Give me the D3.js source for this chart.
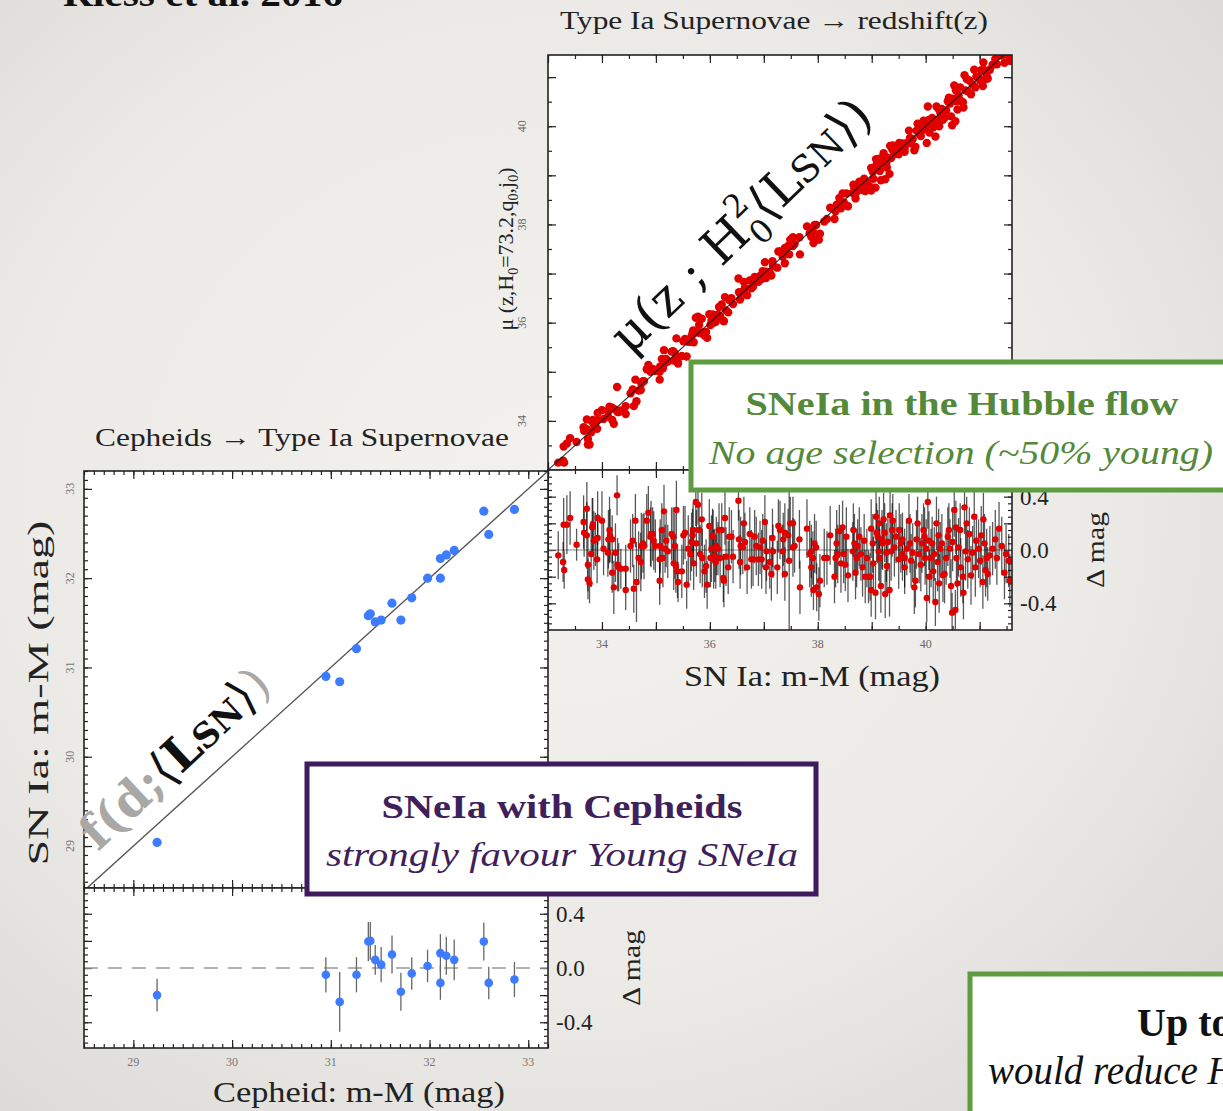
<!DOCTYPE html>
<html>
<head>
<meta charset="utf-8">
<script src="https://cdn.jsdelivr.net/npm/d3@7"></script>
<style>
body { margin: 0; }
svg { display: block; }
</style>
</head>
<body>
<svg id="chart" width="1223" height="1111"></svg>
<script>

// Cepheid-host SNe Ia (lower left panel)
var cephDist = [29.24, 30.95, 31.09, 31.26, 31.38, 31.40, 31.45, 31.51, 31.62, 31.71, 31.82, 31.98, 32.11, 32.11, 32.17, 32.25, 32.55, 32.60, 32.86];
var cephSN   = [29.04, 30.90, 30.84, 31.21, 31.58, 31.60, 31.51, 31.53, 31.72, 31.53, 31.78, 32.00, 32.22, 32.00, 32.26, 32.31, 32.75, 32.49, 32.77];
var cephRes  = [-0.20, -0.05, -0.25, -0.05, 0.195, 0.20, 0.06, 0.025, 0.10, -0.175, -0.04, 0.015, 0.11, -0.11, 0.09, 0.06, 0.195, -0.11, -0.085];
var cephErr  = [0.12, 0.13, 0.22, 0.13, 0.145, 0.14, 0.11, 0.13, 0.14, 0.14, 0.12, 0.12, 0.14, 0.125, 0.14, 0.15, 0.14, 0.12, 0.13];

// Hubble-flow SNe Ia: [SN m-M, residual, error]
var hubblePts = [
[33.19,-0.04,.18],[33.28,-0.09,.15],[33.30,-0.15,.14],[33.29,0.19,.2],[33.35,0.19,.22],[33.41,0.24,.2],[33.53,0.04,.12],[33.66,0.21,.2],[33.67,0.13,.18],[33.72,0.31,.2],
[33.72,0.11,.25],[33.74,-0.11,.2],[33.74,-0.22,.15],[33.77,-0.25,.15],[33.80,-0.03,.25],[33.82,0.17,.22],[33.83,0.19,.2],[33.85,0.07,.22],[33.88,0.08,.2],[33.91,-0.07,.18],
[33.92,0.24,.2],[33.92,0.09,.18],[34.00,0.22,.22],[34.03,0.01,.2],[34.11,-0.02,.18],[34.12,0.08,.22],[34.14,0.15,.25],[34.15,0.11,.2],[34.19,0.08,.18],[34.19,-0.17,.15],
[34.22,-0.28,.2],[34.25,-0.02,.22],[34.28,0.41,.15],[34.29,-0.11,.2],[34.31,-0.13,.18],[34.35,-0.14,.15],[34.44,-0.14,.18],[34.44,-0.30,.15],[34.53,0.03,.2],[34.57,0.07,.2],
[34.59,-0.29,.18],[34.62,0.22,.2],[34.64,-0.24,.3],[34.68,-0.06,.2],[34.72,-0.09,.22],[34.73,0.03,.25],[34.76,0.05,.22],[34.78,0.03,.25],[34.83,0.22,.2],[34.86,0.28,.2],
[34.90,0.10,.22],[34.91,0.12,.25],[34.94,0.12,.2],[34.96,0.07,.22],[34.99,0.03,.2],[35.07,-0.07,.22],[35.07,-0.23,.18],[35.08,0.03,.2],[35.11,0.15,.2],[35.13,-0.06,.22],
[35.15,0.29,.2],[35.17,0.01,.18],[35.19,0.07,.2],[35.22,-0.01,.2],
[35.29,0.12,.2],[35.32,0.10,.22],[35.33,-0.10,.2],[35.35,0.03,.25],[35.37,-0.12,.2],[35.38,0.30,.22],[35.40,-0.16,.2],[35.41,-0.24,.15],[35.48,-0.16,.2],[35.51,0.11,.22],
[35.54,0.13,.2],[35.57,-0.26,.18],[35.60,0.01,.25],[35.64,-0.03,.2],[35.66,0.06,.22],[35.68,0.11,.2],[35.69,0.15,.2],[35.70,-0.10,.2],[35.74,0.36,.18],[35.75,0.05,.25],
[35.78,0.34,.15],[35.80,0.15,.2],[35.82,-0.03,.22],[35.85,0.23,.2],[35.86,-0.06,.22],[35.90,-0.16,.2],[35.93,-0.12,.2],[35.95,-0.26,.18],[35.99,0.18,.2],[36.01,-0.06,.22],
[36.03,0.01,.25],[36.05,0.11,.2],[36.06,0.10,.2],[36.07,-0.07,.22],[36.09,-0.04,.2],[36.11,-0.09,.2],[36.12,0.03,.22],[36.15,0.01,.2],[36.17,0.15,.2],[36.19,-0.06,.22],
[36.22,0.15,.2],[36.25,-0.21,.18],[36.26,-0.23,.2],[36.28,0.24,.2],[36.30,-0.05,.22],[36.34,-0.13,.2],[36.36,0.10,.22],[36.40,0.10,.2],[36.43,-0.05,.2],[36.53,0.37,.15],
[36.54,0.08,.22],[36.56,-0.09,.2],[36.57,0.03,.22],[36.61,0.02,.2],[36.63,0.20,.2],[36.65,0.06,.22],[36.69,-0.13,.2],[36.74,0.12,.2],[36.77,-0.07,.22],[36.80,-0.07,.2],
[36.83,0.10,.2],[36.86,0.03,.22],[36.90,-0.07,.2],[36.93,0.02,.2],[36.96,-0.07,.22],[36.98,0.07,.2],[37.02,0.21,.2],[37.04,-0.13,.2],[37.05,-0.01,.22],[37.11,-0.09,.2],
[37.14,-0.18,.2],[37.16,0.09,.22],[37.17,-0.01,.2],[37.25,-0.13,.2],[37.27,0.18,.2],[37.30,0.15,.22],[37.35,-0.01,.2],[37.36,0.08,.2],[37.39,-0.18,.2],[37.39,0.13,.22],
[37.45,0.11,.2],[37.47,-0.08,.55],[37.49,0.20,.2],[37.54,0.02,.22],
[37.54,0.20,.2],[37.57,0.03,.2],[37.66,0.08,.22],[37.67,-0.28,.2],[37.80,0.16,.22],[37.85,-0.03,.25],[37.88,-0.01,.2],[37.88,-0.13,.22],[37.91,-0.06,.2],[37.92,-0.30,.15],
[37.94,0.05,.22],[37.97,0.02,.2],[37.98,-0.28,.18],[38.02,-0.33,.2],[38.04,-0.23,.2],[38.12,-0.06,.22],[38.17,-0.06,.2],[38.23,0.11,.22],[38.31,-0.20,.2],[38.33,-0.06,.22],
[38.35,0.05,.25],[38.37,-0.03,.22],[38.40,0.14,.2],[38.43,-0.10,.22],[38.46,0.17,.2],[38.48,-0.03,.22],[38.51,-0.11,.2],[38.53,0.10,.22],[38.56,-0.19,.2],[38.65,-0.01,.22],
[38.66,0.15,.2],[38.68,0.05,.22],[38.70,-0.17,.2],[38.72,-0.06,.22],[38.74,0.03,.2],[38.77,0.10,.22],[38.80,-0.03,.2],[38.83,-0.13,.22],[38.86,0.07,.2],[38.88,-0.20,.2],
[38.91,-0.06,.22],[38.94,-0.20,.2],[38.97,-0.20,.18],[38.99,0.16,.22],[38.99,-0.30,.2],[39.02,0.05,.22],[39.03,-0.10,.2],[39.07,-0.32,.2],[39.08,0.25,.2],[39.09,0.13,.22],
[39.11,0.10,.2],[39.13,-0.01,.22],[39.14,0.20,.2],[39.15,-0.06,.22],[39.17,-0.27,.2],[39.19,0.08,.22],[39.20,0.05,.2],[39.22,0.23,.2],[39.24,0.13,.22],[39.25,-0.33,.18],
[39.27,-0.02,.22],[39.28,-0.12,.2],[39.30,0.06,.22],[39.33,-0.30,.2],[39.34,0.26,.2],[39.36,-0.01,.22],[39.38,0.15,.2],[39.39,0.22,.2],[39.42,0.02,.22],[39.45,0.10,.2],
[39.50,-0.07,.22],[39.51,0.15,.2],[39.54,0.05,.22],[39.57,-0.03,.2],[39.61,-0.13,.2],
[39.57,0.08,.2],[39.61,-0.06,.22],[39.65,0.01,.2],[39.69,0.22,.2],[39.71,0.05,.22],[39.73,-0.08,.2],[39.76,-0.02,.22],[39.79,-0.28,.2],[39.81,-0.23,.2],[39.83,0.08,.22],
[39.85,0.20,.2],[39.88,-0.03,.22],[39.91,-0.11,.2],[39.93,0.05,.22],[39.96,0.15,.2],[39.98,0.10,.22],[39.99,-0.06,.2],[40.01,0.01,.22],[40.02,-0.36,.18],[40.04,0.36,.2],
[40.06,0.07,.22],[40.07,-0.20,.2],[40.10,-0.06,.22],[40.12,0.05,.2],[40.14,-0.16,.22],[40.16,-0.03,.2],[40.18,-0.39,.18],[40.20,0.20,.2],[40.22,-0.09,.22],[40.24,0.11,.2],
[40.25,-0.25,.22],[40.27,0.01,.2],[40.30,0.05,.22],[40.32,-0.19,.2],[40.35,-0.18,.22],[40.38,-0.06,.2],[40.41,0.10,.22],[40.43,0.15,.2],[40.45,0.01,.22],[40.47,-0.27,.2],
[40.49,-0.47,.15],[40.50,0.06,.22],[40.53,0.30,.2],[40.55,-0.45,.15],[40.56,0.17,.2],[40.57,-0.06,.22],[40.59,-0.25,.2],[40.61,0.02,.22],[40.64,0.15,.2],[40.65,-0.13,.22],
[40.69,-0.20,.2],[40.70,-0.32,.2],[40.72,0.32,.2],[40.74,-0.01,.22],[40.76,0.20,.2],[40.78,-0.07,.22],[40.81,0.12,.2],[40.84,-0.19,.22],[40.87,-0.02,.2],[40.90,0.25,.2],
[40.92,-0.13,.22],[40.94,0.07,.2],[40.98,0.01,.22],[41.01,-0.08,.2],[41.03,0.11,.22],[41.06,-0.24,.2],[41.07,0.23,.2],[41.09,0.05,.22],[41.11,-0.15,.2],[41.13,-0.06,.22],
[41.15,-0.18,.2],[41.19,-0.04,.22],[41.24,0.01,.2],[41.29,0.08,.22],[41.32,-0.06,.2],[41.36,0.16,.2],[41.41,0.03,.22],[41.46,-0.17,.2],[41.49,-0.03,.22],[41.54,-0.08,.2],
[41.56,-0.23,.2]
];

var hubbleTicks = [34, 36, 38, 40];
var cephTicks = [29, 30, 31, 32, 33];
var resTicks = [0.4, 0.0, -0.4];

var serif = "'Liberation Serif', 'DejaVu Serif', serif";
var svg = d3.select("#chart");

// paper background
var defs = svg.append("defs");
var bg = defs.append("radialGradient").attr("id", "paper").attr("cx", "45%").attr("cy", "45%").attr("r", "75%");
bg.append("stop").attr("offset", "0%").attr("stop-color", "#f3f2ee");
bg.append("stop").attr("offset", "60%").attr("stop-color", "#ebeae6");
bg.append("stop").attr("offset", "100%").attr("stop-color", "#d9d8d4");
svg.append("rect").attr("width", 1223).attr("height", 1111).attr("fill", "url(#paper)");

function ticks(g, scale, orient, len, values, w, h) {
  var axis = orient(scale).tickValues(values).tickSizeInner(-len).tickSizeOuter(0).tickFormat("");
  var a = g.append("g").call(axis);
  if (orient === d3.axisBottom) a.attr("transform", "translate(0," + h + ")");
  if (orient === d3.axisRight) a.attr("transform", "translate(" + w + ",0)");
  a.select(".domain").remove();
  a.selectAll("line").attr("stroke", "#222").attr("stroke-width", 1.2);
}

function frame(g, x, y, w, h, xMaj, xMin, yMaj, yMin) {
  g.append("rect").attr("width", w).attr("height", h).attr("fill", "#fff");
  [d3.axisBottom, d3.axisTop].forEach(function(o) {
    ticks(g, x, o, 8, xMaj, w, h);
    ticks(g, x, o, 4, xMin, w, h);
  });
  [d3.axisLeft, d3.axisRight].forEach(function(o) {
    ticks(g, y, o, 8, yMaj, w, h);
    ticks(g, y, o, 4, yMin, w, h);
  });
}

function border(g, w, h) {
  g.append("rect").attr("width", w).attr("height", h).attr("fill", "none")
    .attr("stroke", "#222").attr("stroke-width", 1.6);
}

function clip(id, w, h) {
  defs.append("clipPath").attr("id", id).append("rect").attr("width", w).attr("height", h);
}

// ---------- upper right: Hubble diagram ----------
var xT = d3.scaleLinear().domain([33, 41.6]).range([0, 464]);
var yT = d3.scaleLinear().domain([33, 41.45]).range([415, 0]);
var gT = svg.append("g").attr("transform", "translate(548,55)");
frame(gT, xT, yT, 464, 415, d3.range(33, 42, 1), d3.range(33, 41.6, 0.5), d3.range(33, 42, 1), d3.range(33, 41.5, 0.5));
clip("clipT", 464, 415);
var pT = gT.append("g").attr("clip-path", "url(#clipT)");
pT.selectAll("circle").data(hubblePts).enter().append("circle")
  .attr("cx", function(d) { return xT(d[0]); })
  .attr("cy", function(d) { return yT(d[0] + d[1]); })
  .attr("r", 4.2)
  .attr("fill", "#e00000");
pT.append("line")
  .attr("x1", xT(33)).attr("y1", yT(33)).attr("x2", xT(41.6)).attr("y2", yT(41.6))
  .attr("stroke", "#111").attr("stroke-width", 1.2).attr("opacity", 0.8);
border(gT, 464, 415);

gT.selectAll(".ylab").data(hubbleTicks).enter().append("text")
  .attr("transform", function(d) { return "translate(-22," + yT(d) + ") rotate(-90)"; })
  .attr("text-anchor", "middle").attr("font-family", serif).attr("font-size", 12).attr("fill", "#666")
  .text(function(d) { return d; });

// ---------- upper right: residuals ----------
var yRT = d3.scaleLinear().domain([-0.6, 0.6]).range([160, 0]);
var gRT = svg.append("g").attr("transform", "translate(548,470)");
frame(gRT, xT, yRT, 464, 160, d3.range(33, 42, 1), d3.range(33, 41.6, 0.5), [-0.4, -0.2, 0, 0.2, 0.4], d3.range(-0.55, 0.6, 0.05));
clip("clipRT", 464, 160);
var pRT = gRT.append("g").attr("clip-path", "url(#clipRT)");
pRT.append("line").attr("x1", 0).attr("x2", 464).attr("y1", yRT(0)).attr("y2", yRT(0))
  .attr("stroke", "#888").attr("stroke-width", 1);
pRT.selectAll(".err").data(hubblePts).enter().append("line")
  .attr("x1", function(d) { return xT(d[0]); }).attr("x2", function(d) { return xT(d[0]); })
  .attr("y1", function(d) { return yRT(d[1] - d[2]); }).attr("y2", function(d) { return yRT(d[1] + d[2]); })
  .attr("stroke", "#000").attr("stroke-opacity", 0.65).attr("stroke-width", 1.3);
pRT.selectAll("circle").data(hubblePts).enter().append("circle")
  .attr("cx", function(d) { return xT(d[0]); })
  .attr("cy", function(d) { return yRT(d[1]); })
  .attr("r", 3.2)
  .attr("fill", "#e00000");
border(gRT, 464, 160);

gRT.selectAll(".xlab").data(hubbleTicks).enter().append("text")
  .attr("x", function(d) { return xT(d); }).attr("y", 178)
  .attr("text-anchor", "middle").attr("font-family", serif).attr("font-size", 12).attr("fill", "#666")
  .text(function(d) { return d; });
gRT.selectAll(".rlab").data(resTicks).enter().append("text")
  .attr("x", 472).attr("y", function(d) { return yRT(d); }).attr("dy", "0.35em")
  .attr("font-family", serif).attr("font-size", 23).attr("fill", "#222")
  .text(function(d) { return d3.format(".1f")(d).replace("−", "-"); });

// ---------- lower left: Cepheid vs SN ----------
var xC = d3.scaleLinear().domain([28.5, 33.2]).range([0, 464]);
var yC = d3.scaleLinear().domain([28.53, 33.2]).range([417, 0]);
var gC = svg.append("g").attr("transform", "translate(84,471)");
frame(gC, xC, yC, 464, 417, cephTicks, d3.range(28.5, 33.2, 0.1), cephTicks, d3.range(28.6, 33.2, 0.1));
gC.append("line")
  .attr("x1", xC(28.5)).attr("y1", yC(28.5)).attr("x2", xC(33.2)).attr("y2", yC(33.2))
  .attr("stroke", "#555").attr("stroke-width", 1.4);
gC.selectAll("circle").data(cephDist).enter().append("circle")
  .attr("cx", function(d) { return xC(d); })
  .attr("cy", function(d, i) { return yC(cephSN[i]); })
  .attr("r", 4.6)
  .attr("fill", "#3d7bff");
border(gC, 464, 417);

gC.selectAll(".ylab").data(cephTicks).enter().append("text")
  .attr("transform", function(d) { return "translate(-10," + yC(d) + ") rotate(-90)"; })
  .attr("text-anchor", "middle").attr("font-family", serif).attr("font-size", 12).attr("fill", "#777")
  .text(function(d) { return d; });

// ---------- lower left: residuals ----------
var yRC = d3.scaleLinear().domain([-0.59, 0.59]).range([160, 0]);
var gRC = svg.append("g").attr("transform", "translate(84,888)");
frame(gRC, xC, yRC, 464, 160, cephTicks, d3.range(28.5, 33.2, 0.1), [-0.4, -0.2, 0, 0.2, 0.4], d3.range(-0.55, 0.6, 0.05));
gRC.append("line").attr("x1", 0).attr("x2", 464).attr("y1", yRC(0)).attr("y2", yRC(0))
  .attr("stroke", "#999").attr("stroke-width", 1.6).attr("stroke-dasharray", "14,10");
gRC.selectAll(".err").data(cephDist).enter().append("line")
  .attr("x1", function(d) { return xC(d); }).attr("x2", function(d) { return xC(d); })
  .attr("y1", function(d, i) { return yRC(cephRes[i] - cephErr[i]); })
  .attr("y2", function(d, i) { return yRC(cephRes[i] + cephErr[i]); })
  .attr("stroke", "#666").attr("stroke-width", 1.3);
gRC.selectAll("circle").data(cephDist).enter().append("circle")
  .attr("cx", function(d) { return xC(d); })
  .attr("cy", function(d, i) { return yRC(cephRes[i]); })
  .attr("r", 4.3)
  .attr("fill", "#3d7bff");
border(gRC, 464, 160);

gRC.selectAll(".xlab").data(cephTicks).enter().append("text")
  .attr("x", function(d) { return xC(d); }).attr("y", 178)
  .attr("text-anchor", "middle").attr("font-family", serif).attr("font-size", 12).attr("fill", "#777")
  .text(function(d) { return d; });
gRC.selectAll(".rlab").data(resTicks).enter().append("text")
  .attr("x", 472).attr("y", function(d) { return yRC(d); }).attr("dy", "0.35em")
  .attr("font-family", serif).attr("font-size", 23).attr("fill", "#222")
  .text(function(d) { return d3.format(".1f")(d).replace("−", "-"); });

// ---------- axis titles ----------
function label(x, y, txt, size, rot, len) {
  var t = svg.append("text")
    .attr("transform", "translate(" + x + "," + y + ")" + (rot ? " rotate(" + rot + ")" : ""))
    .attr("text-anchor", "middle").attr("font-family", serif).attr("font-size", size).attr("fill", "#222")
    .text(txt);
  if (len) t.attr("textLength", len).attr("lengthAdjust", "spacingAndGlyphs");
  return t;
}
label(774, 29, "Type Ia Supernovae \u2192 redshift(z)", 25, 0, 428);
label(302, 446, "Cepheids \u2192 Type Ia Supernovae", 25, 0, 414);
label(812, 686, "SN Ia: m-M (mag)", 30, 0, 256);
label(359, 1102, "Cepheid: m-M (mag)", 30, 0, 292);
label(48, 693, "SN Ia: m-M (mag)", 30, -90, 345);
label(1104, 550, "\u0394 mag", 25, -90, 76);
label(640, 968, "\u0394 mag", 25, -90, 76);

var mu = svg.append("text")
  .attr("transform", "translate(513,249) rotate(-90)")
  .attr("text-anchor", "middle").attr("font-family", serif).attr("font-size", 22).attr("fill", "#222");
mu.append("tspan").text("\u03bc (z,H");
mu.append("tspan").attr("font-size", 14).attr("dy", 5).text("0");
mu.append("tspan").attr("dy", -5).text("=73.2,q");
mu.append("tspan").attr("font-size", 14).attr("dy", 5).text("0");
mu.append("tspan").attr("dy", -5).text(",j");
mu.append("tspan").attr("font-size", 14).attr("dy", 5).text("0");
mu.append("tspan").attr("dy", -5).text(")");

// ---------- diagonal annotations ----------
var ann1 = svg.append("text")
  .attr("transform", "translate(630,356) rotate(-44)")
  .attr("font-family", "'DejaVu Serif', serif").attr("font-size", 50).attr("fill", "#111");
ann1.append("tspan").text("\u03bc(z ; H");
ann1.append("tspan").attr("font-size", 32).attr("dy", -24).text("2");
ann1.append("tspan").attr("font-size", 32).attr("dx", -20).attr("dy", 37).text("0");
ann1.append("tspan").attr("dy", -13).text("\u27e8L");
ann1.append("tspan").attr("font-size", 37).text("SN");
ann1.append("tspan").text("\u27e9)");

var ann2 = svg.append("text")
  .attr("transform", "translate(98,852) rotate(-43)")
  .attr("font-family", "'DejaVu Serif', serif").attr("font-size", 48).attr("font-weight", "bold");
ann2.append("tspan").attr("fill", "#a9a8a4").text("f(d;");
ann2.append("tspan").attr("fill", "#111").attr("font-weight", "normal").text("\u27e8");
ann2.append("tspan").attr("fill", "#111").text("L");
ann2.append("tspan").attr("fill", "#111").attr("font-size", 34).text("SN");
ann2.append("tspan").attr("fill", "#111").attr("font-weight", "normal").text("\u27e9");
ann2.append("tspan").attr("fill", "#a9a8a4").attr("font-weight", "normal").text(")");

// ---------- callout boxes ----------
function box(x, y, w, h, color) {
  svg.append("rect").attr("x", x).attr("y", y).attr("width", w).attr("height", h)
    .attr("fill", "#fff").attr("stroke", color).attr("stroke-width", 5);
}
function boxText(x, y, txt, color, size, weight, style, len, anchor) {
  var t = svg.append("text").attr("x", x).attr("y", y)
    .attr("text-anchor", anchor || "middle").attr("font-family", serif).attr("font-size", size)
    .attr("font-weight", weight).attr("font-style", style).attr("fill", color).text(txt);
  if (len) t.attr("textLength", len).attr("lengthAdjust", "spacingAndGlyphs");
}

box(691, 362, 560, 128, "#5e9c3f");
boxText(962, 415, "SNeIa in the Hubble flow", "#55893a", 33, "bold", "normal", 433);
boxText(961, 464, "No age selection (~50% young)", "#55893a", 33, "normal", "italic", 504);

box(307, 764, 509, 130, "#3f1a5e");
boxText(562, 818, "SNeIa with Cepheids", "#3f1f5c", 33, "bold", "normal", 361);
boxText(562, 866, "strongly favour Young SNeIa", "#3f1f5c", 33, "normal", "italic", 472);

box(970, 974, 300, 160, "#5e9c3f");
boxText(1137, 1036, "Up to", "#111", 40, "bold", "normal", null, "start");
boxText(988, 1084, "would reduce H\u2080", "#111", 39, "normal", "italic", null, "start");

// title, cut off at the top edge
svg.append("text").attr("x", 63).attr("y", 6)
  .attr("font-family", serif).attr("font-size", 36).attr("font-weight", "bold").attr("fill", "#111")
  .attr("textLength", 280).attr("lengthAdjust", "spacingAndGlyphs")
  .text("Riess et al. 2016");

</script>
</body>
</html>
